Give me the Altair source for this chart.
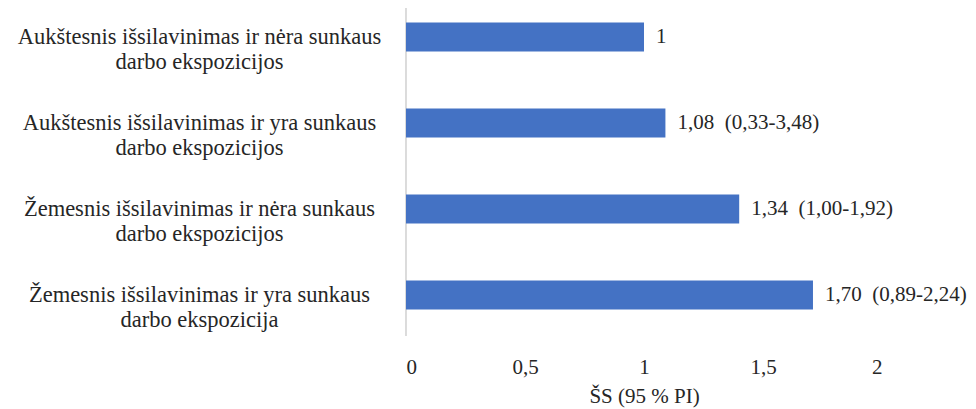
import altair as alt
import pandas as pd

categories = [
    "Aukštesnis išsilavinimas ir nėra sunkaus\ndarbo ekspozicijos",
    "Aukštesnis išsilavinimas ir yra sunkaus\ndarbo ekspozicijos",
    "Žemesnis išsilavinimas ir nėra sunkaus\ndarbo ekspozicijos",
    "Žemesnis išsilavinimas ir yra sunkaus\ndarbo ekspozicija",
]
values = [1.0, 1.09, 1.40, 1.71]
value_labels = ["1", "1,08\u00a0 (0,33-3,48)", "1,34\u00a0 (1,00-1,92)", "1,70\u00a0 (0,89-2,24)"]
x_ticks = [0, 0.5, 1, 1.5, 2]

df = pd.DataFrame({"cat": categories, "val": values, "lab": value_labels})

FONT = "Liberation Serif, Times New Roman, serif"
FS = 21

y_enc = alt.Y(
    "cat:N",
    sort=None,
    scale=alt.Scale(paddingInner=0.663, paddingOuter=0.17),
    axis=alt.Axis(
        title=None,
        ticks=False,
        domain=False,
        grid=False,
        labelAlign="center",
        labelBaseline="middle",
        labelPadding=207,
        labelLimit=500,
        labelFontSize=22.5,
        labelFont=FONT,
        labelColor="#262626",
        labelLineHeight=25,
        labelExpr="split(datum.label, '\\n')",
    ),
)

x_enc = alt.X(
    "val:Q",
    scale=alt.Scale(domain=[0, 2], nice=False),
    axis=alt.Axis(
        values=x_ticks,
        title="ŠS (95 % PI)",
        titleFont=FONT,
        titleFontSize=FS,
        titleFontWeight="normal",
        titleColor="#262626",
        titlePadding=8,
        labelFont=FONT,
        labelFontSize=FS,
        labelColor="#262626",
        labelPadding=32,
        labelExpr="replace(format(datum.value, ''), '.', ',')",
        ticks=False,
        domain=False,
        grid=False,
    ),
)

bars = alt.Chart(df).mark_bar(color="#4472C4").encode(x=x_enc, y=y_enc)

texts = alt.Chart(df).mark_text(
    align="left", baseline="middle", dx=12, font=FONT, fontSize=FS, color="#262626"
).encode(x="val:Q", y=alt.Y("cat:N", sort=None), text="lab:N")

axis_line = alt.Chart(df).mark_rule(color="#d9d9d9", strokeWidth=1).encode(
    x=alt.value(0), y=alt.value(-8), y2=alt.value(328)
)

chart = (
    alt.layer(axis_line, bars, texts)
    .properties(
        width=476,
        height=316,
        background="white",
        autosize=alt.AutoSizeParams(type="none"),
        padding={"left": 398, "top": 0, "right": 86, "bottom": 85},
    )
    .configure_view(stroke="transparent", strokeWidth=0)
)

chart.save("out.html", embed_options={"renderer": "svg", "actions": False})
